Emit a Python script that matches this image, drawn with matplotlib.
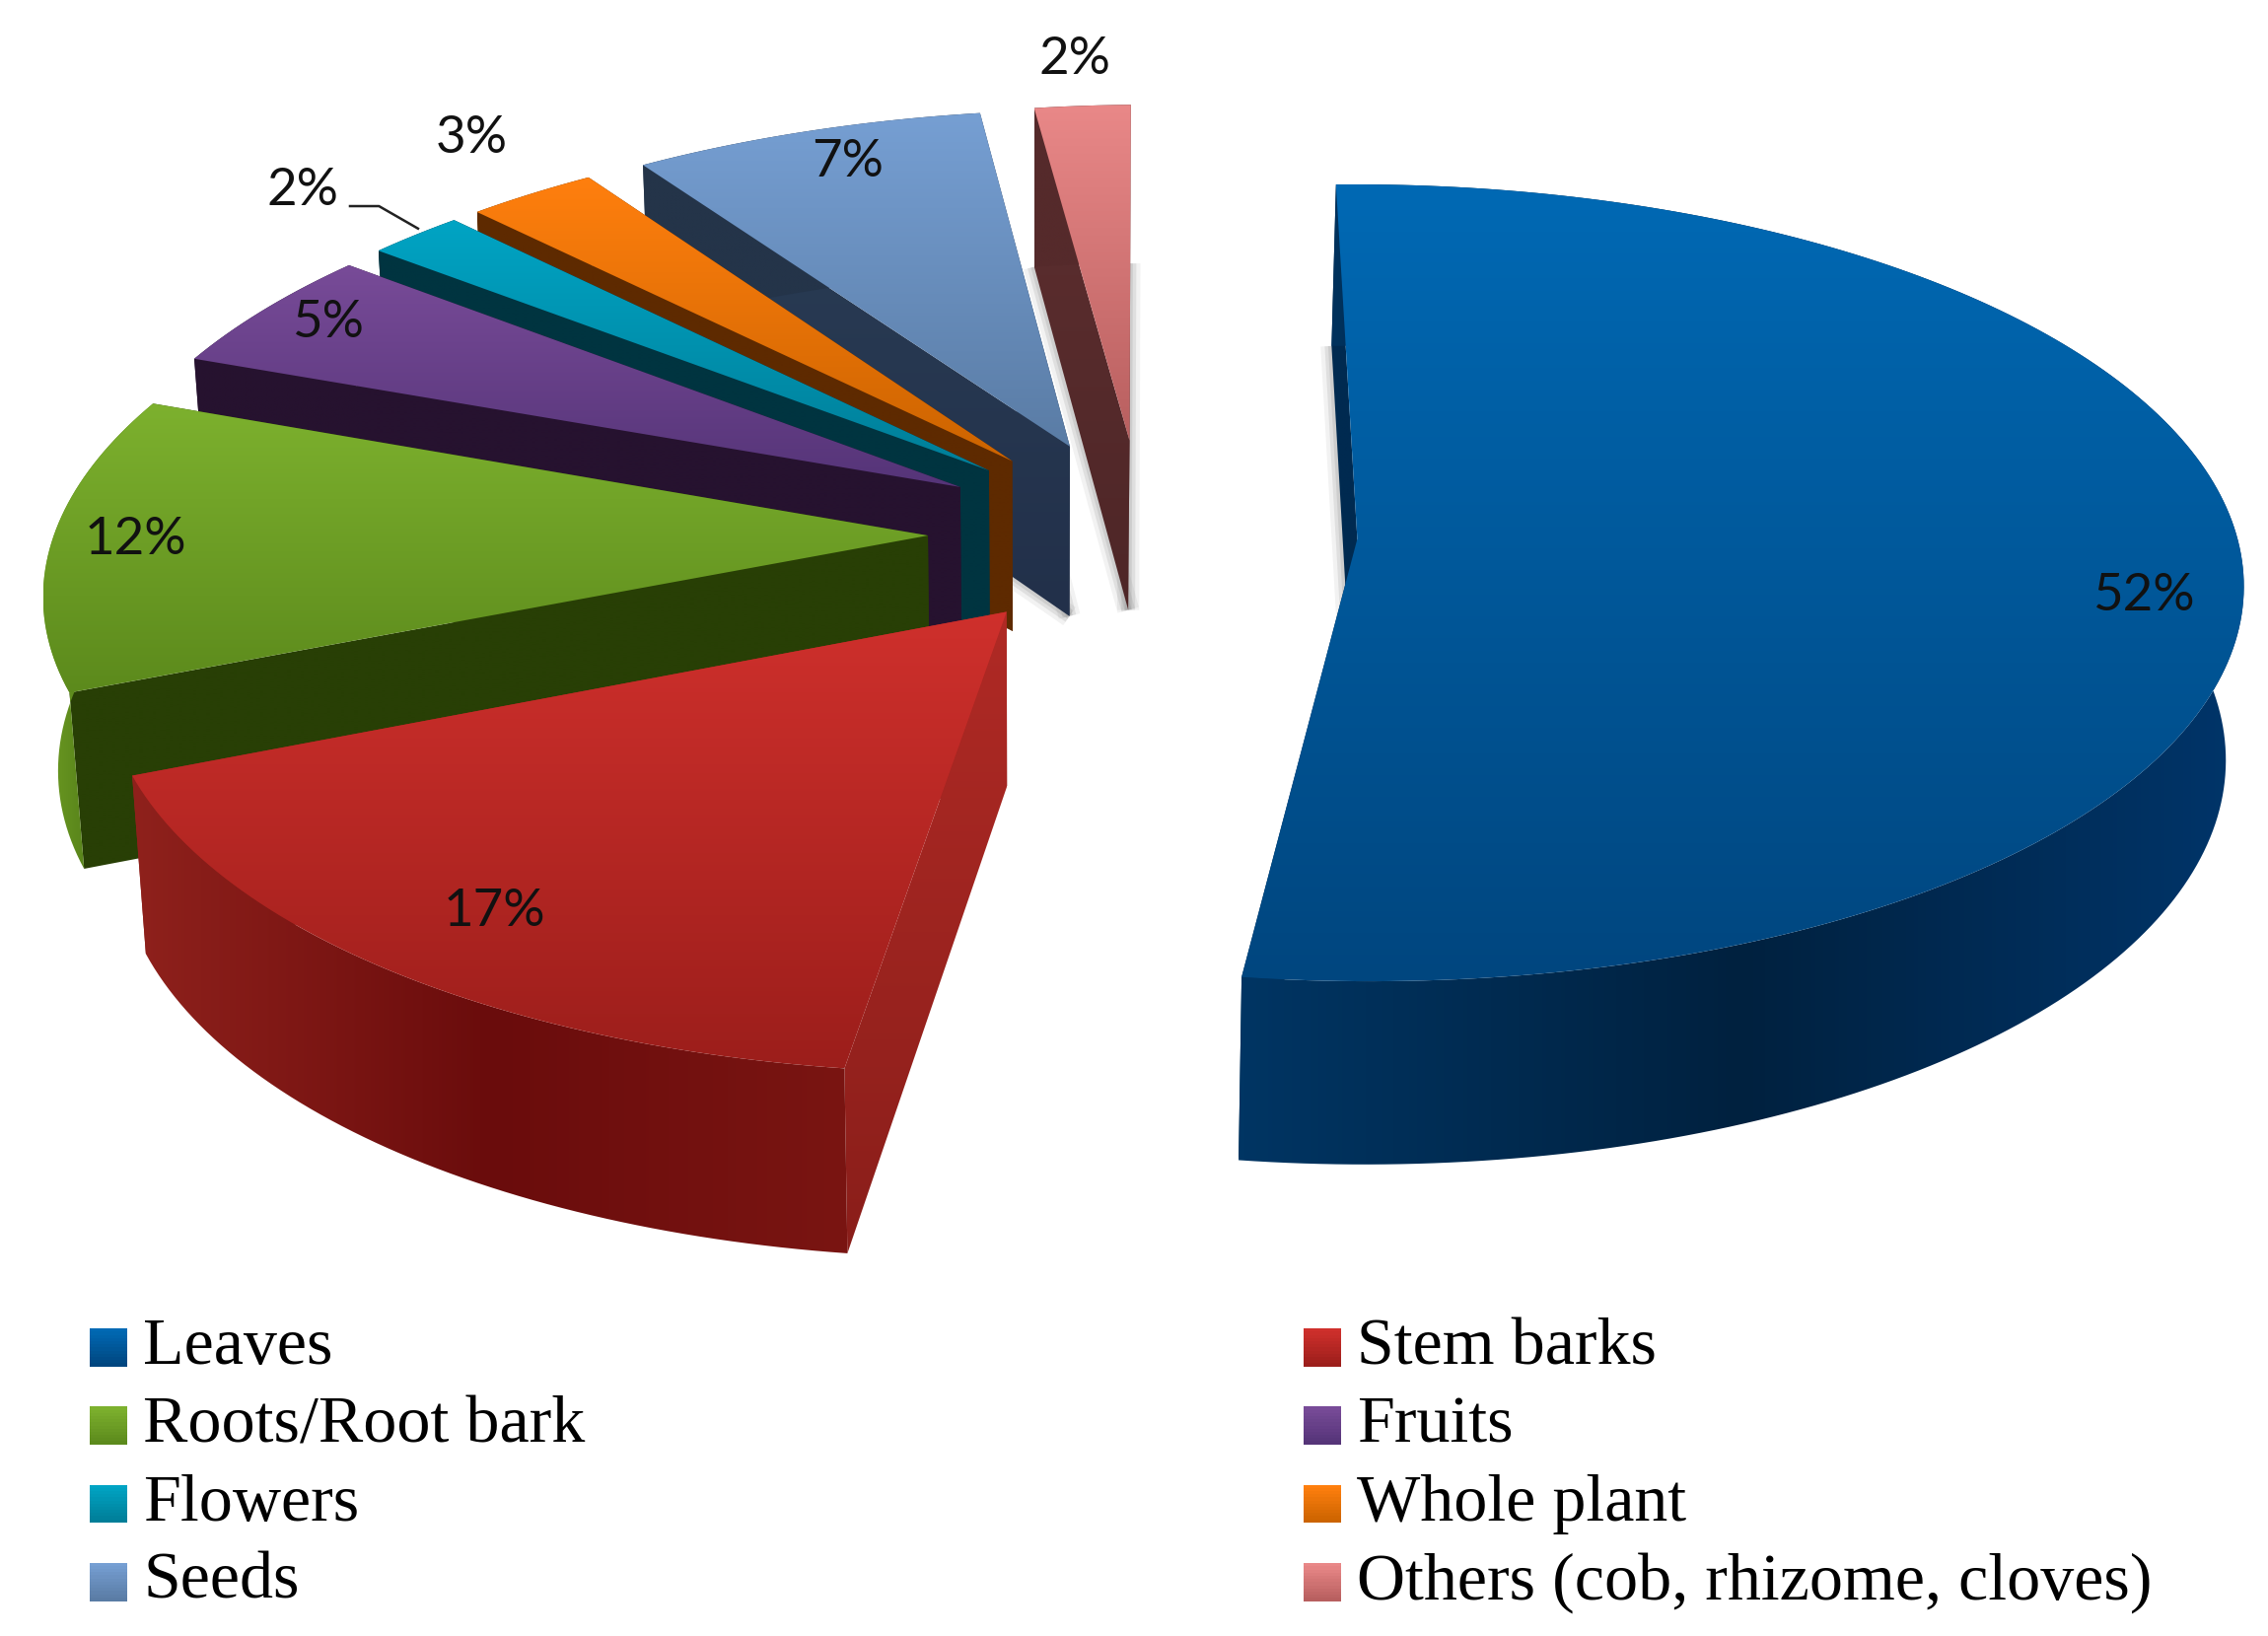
import numpy as np
import matplotlib
matplotlib.use("Agg")
import matplotlib.pyplot as plt
from matplotlib.patches import Polygon, Patch, Rectangle
from matplotlib.colors import LinearSegmentedColormap as LSC, to_rgb
from matplotlib.legend_handler import HandlerBase

# ---------- data ----------
categories = ["Leaves", "Stem barks", "Roots/Root bark", "Fruits", "Flowers",
              "Whole plant", "Seeds", "Others (cob, rhizome, cloves)"]
values = [52.3, 16.7, 12, 5, 2, 2.7, 7.3, 2]
value_labels = ["52%", "17%", "12%", "5%", "2%", "3%", "7%", "2%"]

# ---------- styling ----------
top_light = ["#0069B4", "#CF302C", "#7DB12E", "#784B98", "#00A4C4", "#FF7F0E", "#769FD3", "#E98888"]
top_dark = ["#00467F", "#9C1E1B", "#5C8A1C", "#553478", "#007E98", "#CC6400", "#5A7CA5", "#B85F5F"]
rim_stops = [["#003563", "#00213F", "#00356A"], ["#8F211C", "#6A0C0C", "#7A1512"],
             ["#6D9B22", "#4F7A18", "#4F7A18"], ["#26122F"] * 3, ["#003440"] * 3,
             ["#5E2A00"] * 3, ["#243449"] * 3, ["#552A2B"] * 3]
cut_stops = [["#002A50", "#002A50"], ["#B02A25", "#8A1E1A"], ["#283F05", "#283F05"],
             ["#26122F", "#26122F"], ["#003440", "#003440"], ["#5E2A00", "#5E2A00"],
             ["#2A3D55", "#22304A"], ["#5E2F30", "#4E2627"]]
label_xy = [(1482, 412), (342, 630), (94, 373), (227, 223), (209, 132), (326, 96), (586, 112), (743, 41)]
shadow_edges = {0: (0,), 6: (0, -1), 7: (0, -1)}

# projection parameters (reference pixel frame 1568x1131)
CX, CY, RX, RY = 790, 369, 606, 271
EXPLODE, PERSP, TILT = 0.245, 0.11, -5
DEPTH0, DEPTH1, BOTTOM_SCALE, BOTTOM_CX = 119, 7.5, 0.985, 720
START_DEG = 0.0


def project(X, Y, bottom=False):
    X, Y = np.atleast_1d(X), np.atleast_1d(Y)
    w = 1 + PERSP * Y
    u = CX + RX * X / w
    v = CY - RY * Y / w + TILT * X
    if bottom:
        v = v + DEPTH0 - DEPTH1 * Y
        u = BOTTOM_CX + (u - BOTTOM_CX) * BOTTOM_SCALE
    return np.column_stack([u, v])


def grad_fill(ax, pts, stops, axis, z):
    """Fill a polygon with a linear gradient along axis 0 (x) or 1 (y)."""
    x0, y0 = pts.min(axis=0)
    x1, y1 = pts.max(axis=0)
    cmap = LSC.from_list("g", stops)
    g = np.linspace(0, 1, 256)
    arr = g[:, None] if axis == 1 else g[None, :]
    im = ax.imshow(arr, cmap=cmap, extent=(x0, x1, y1, y0), aspect="auto",
                   origin="upper", zorder=z, interpolation="bilinear")
    clip = Polygon(pts, closed=True, transform=ax.transData, facecolor="none", edgecolor="none")
    ax.add_patch(clip)
    im.set_clip_path(clip)


class GradHandler(HandlerBase):
    """Legend swatch shaded from the light to the dark top-face colour."""
    def __init__(self, light, dark):
        super().__init__()
        self.light, self.dark = np.array(to_rgb(light)), np.array(to_rgb(dark))

    def create_artists(self, legend, orig, xd, yd, w, h, fs, trans):
        n = 12
        out = []
        side = w
        y0 = -yd - fs * 0.09
        for k in range(n):
            t = k / (n - 1)
            c = self.light * (1 - t) + self.dark * t
            out.append(Rectangle((-xd, y0 + side * (1 - (k + 1) / n)), side, side / n + 0.5,
                                 facecolor=c, edgecolor="none", transform=trans))
        return out


fig = plt.figure(figsize=(23, 16.59), dpi=100, facecolor="white")
ax = fig.add_axes([0, 0, 1, 1])

fractions = np.array(values) / sum(values)
edges = np.r_[0, np.cumsum(fractions)] * 2 * np.pi + np.deg2rad(START_DEG)

# painter's order, back to front
order = [7, 6, 5, 4, 3, 2, 1, 0]
z = 2
for i in order:
    a0, a1 = edges[i], edges[i + 1]
    mid = (a0 + a1) / 2
    ox, oy = EXPLODE * np.sin(mid), EXPLODE * np.cos(mid)
    th = np.linspace(a0, a1, max(4, int((a1 - a0) * 60)))
    rimX, rimY = ox + np.sin(th), oy + np.cos(th)
    top_rim = project(rimX, rimY)
    bot_rim = project(rimX, rimY, True)
    apex_t = project(ox, oy)
    apex_b = project(ox, oy, True)
    # soft shadow along the cut edges of the floor face
    for k in shadow_edges.get(i, ()):
        seg = np.vstack([apex_b, bot_rim[k]])
        for lw, al in ((16, 0.10), (10, 0.16), (5, 0.18)):
            ax.plot(seg[:, 0], seg[:, 1], color="#808080", lw=lw, alpha=al,
                    solid_capstyle="butt", zorder=1)
    # walls of the two cut faces
    for k in (-1, 0):
        wall = np.vstack([apex_t, top_rim[k], bot_rim[k], apex_b])
        grad_fill(ax, wall, cut_stops[i], 1, z)
        z += 1
    # outer rim wall
    wall = np.vstack([top_rim, bot_rim[::-1]])
    grad_fill(ax, wall, rim_stops[i], 0, z)
    z += 1
    # top face
    top = np.vstack([apex_t, top_rim])
    grad_fill(ax, top, [top_light[i], top_dark[i]], 1, z)
    z += 1

# value labels
for i, txt in enumerate(value_labels):
    ax.text(*label_xy[i], txt, ha="center", va="center", fontsize=38, family="Lato",
            color="#111111", zorder=100)
# leader line of the small Flowers label
ax.plot([242, 262, 289], [142.5, 142.5, 158], color="#222222", lw=1.8, zorder=100)

# legend, filled row by row as in the reference
handles = [Patch(facecolor=top_light[i], edgecolor="none") for i in range(8)]
hmap = {handles[i]: GradHandler(top_light[i], top_dark[i]) for i in range(8)}
col_order = [0, 2, 4, 6, 1, 3, 5, 7]
leg = ax.legend([handles[i] for i in col_order], [categories[i] for i in col_order],
                handler_map=hmap,
                ncol=2, loc="upper left", bbox_to_anchor=(62 / 1568, 1 - 911 / 1131),
                bbox_transform=ax.transAxes, frameon=False,
                prop={"family": "Liberation Serif", "size": 49},
                handlelength=0.56, handleheight=0.56, handletextpad=0.24,
                labelspacing=0.267, columnspacing=10.7, borderpad=0, borderaxespad=0)

ax.set_xlim(0, 1568)
ax.set_ylim(1131, 0)
ax.axis("off")
fig.savefig("out.png", dpi=100, facecolor="white")
